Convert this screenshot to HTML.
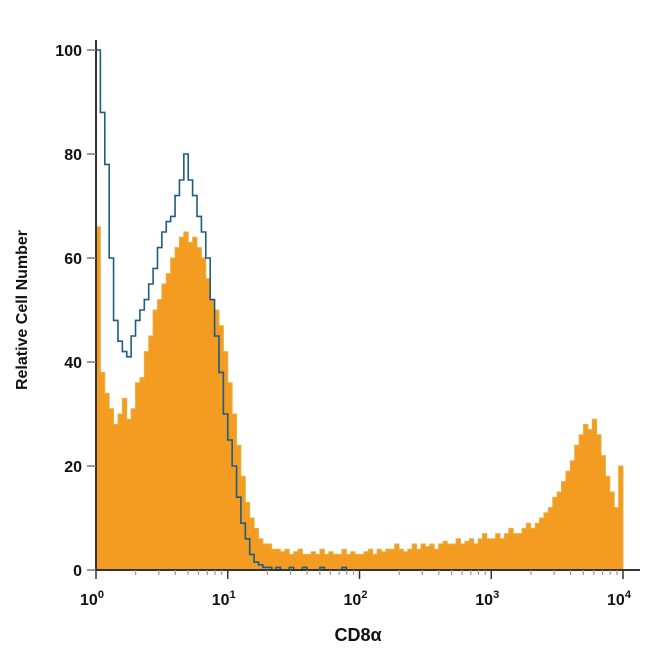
<!DOCTYPE html>
<html><head><meta charset="utf-8"><style>
html,body{margin:0;padding:0;background:#fff;}
svg{display:block;font-family:"Liberation Sans",sans-serif;}
</style></head><body>
<svg id="chart" width="650" height="650" viewBox="0 0 650 650"></svg>
<script>
const orangeValues=[66,38,34,31,28,30,33,29,31,36,37,42,45,50,52,55,57,60,62,64,65,63,64,62,60,56,52,50,47,42,
36,30,24,18,13,10,8,6,5,5,4,4,3.5,4,3,3.5,4,3,3,3.5,3,4,3,3.5,3,3,4,3,3.5,3,
3,3.5,4,3,4,3.5,4,4,5,4,3.5,4,5,4,5,4.5,5,4,5,5.5,5,5,6,5,5.5,6,5,6,7,6,
6,7,6,7,8,7,7,8,9,8,9,10,11,12,14,15,17,19,21,24,26,28,27,29,26,22,18,15,12,20];
const blueValues=[100,88,78,60,48,44,42,41,45,48,50,52,55,58,62,65,67,68,72,75,80,75,72,68,65,60,52,45,38,30,
25,20,14,9,6,3,1.5,1,0.5,0.5,0,0.5,0,0,0.5,0,0,0.5,0,0,0,0.5,0,0,0,0,0.5,0,0,0,
0,0,0,0,0,0,0,0,0,0,0,0,0,0,0,0,0,0,0,0,0,0,0,0,0,0,0,0,0,0,
0,0,0,0,0,0,0,0,0,0,0,0,0,0,0,0,0,0,0,0,0,0,0,0,0,0,0,0,0,0];
const yTicks=[0,20,40,60,80,100];
const xDecades=[0,1,2,3,4];
const binsPerDecade=30;

const svg=document.getElementById('chart');
const NS='http://www.w3.org/2000/svg';
const X0=96,X1=623,Y0=570,Y1=50;
const xs=l=>X0+(X1-X0)*l/4;
const ys=v=>Y0-(Y0-Y1)*v/100;
function mk(t,a){const e=document.createElementNS(NS,t);for(const k in a)e.setAttribute(k,a[k]);svg.appendChild(e);return e;}
function stepPath(vals,close){
  let d='M'+xs(0)+','+ys(close?0:vals[0]);
  vals.forEach((v,i)=>{const a=xs(i/binsPerDecade),b=xs((i+1)/binsPerDecade);d+=' L'+a+','+ys(v)+' L'+b+','+ys(v);});
  if(close)d+=' L'+xs(vals.length/binsPerDecade)+','+ys(0)+' Z';
  return d;
}
const o=mk('path',{d:stepPath(orangeValues,true),fill:'#f49b22',stroke:'#e8b040','stroke-width':'1'});


const b=mk('path',{d:stepPath(blueValues,false),fill:'none',stroke:'#1d5d80','stroke-width':'1.6'});


const ya=mk('line',{x1:X0,y1:40,x2:X0,y2:Y0,stroke:'#333','stroke-width':'2'});


const xa=mk('line',{x1:X0,y1:Y0,x2:640,y2:Y0,stroke:'#333','stroke-width':'2'});


yTicks.forEach(v=>{
  mk('line',{x1:87,y1:ys(v),x2:X0,y2:ys(v),stroke:'#777','stroke-width':'1.5'});
  const t=mk('text',{x:82,y:ys(v)+6,'text-anchor':'end','font-size':'16','font-weight':'bold',fill:'#111'});
  t.textContent=v;
  
  
});
xDecades.forEach(d=>{
  mk('line',{x1:xs(d),y1:Y0,x2:xs(d),y2:Y0+9,stroke:'#333','stroke-width':'1.5'});
  if(d<4)for(let m=2;m<10;m++)mk('line',{x1:xs(d+Math.log10(m)),y1:Y0,x2:xs(d+Math.log10(m)),y2:Y0+5,stroke:'#999','stroke-width':'1.2'});
  const t=mk('text',{x:xs(d)-4,y:Y0+35,'text-anchor':'middle','font-size':'16','font-weight':'bold',fill:'#111'});
  t.innerHTML='10<tspan dy="-7" font-size="11">'+d+'</tspan>';
  
  
});
const xt=mk('text',{x:358,y:641,'text-anchor':'middle','font-size':'18','font-weight':'bold',fill:'#111'});
xt.textContent='CD8α';


const yt=mk('text',{x:0,y:0,transform:'translate(27,310) rotate(-90)','text-anchor':'middle','font-size':'16','font-weight':'bold',fill:'#111'});
yt.textContent='Relative Cell Number';


</script>
</body></html>
